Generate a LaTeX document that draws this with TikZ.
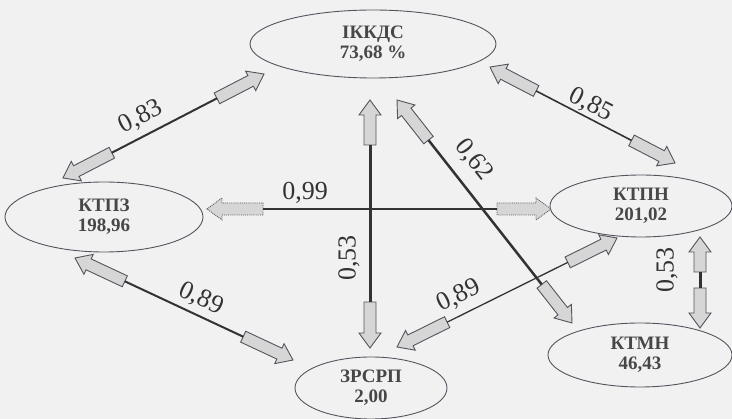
\documentclass[tikz,border=0pt]{standalone}
\usepackage{fontspec}
\setmainfont{Liberation Serif}
\usetikzlibrary{calc,shapes.geometric}
\definecolor{lineC}{HTML}{333333}
\definecolor{fillC}{HTML}{D6D6D6}
\definecolor{edgeC}{HTML}{57535E}
\definecolor{bgC}{HTML}{F1F1F1}
\tikzset{
  state/.style={ellipse, draw=edgeC, line width=0.9pt, inner sep=0pt, align=center,
    font=\fontsize{19}{20}\selectfont\bfseries, text=black!72},
  blockarrow/.style={draw=edgeC, line width=0.9pt, fill=fillC, line join=miter},
  link/.style={draw=lineC, line width=2pt},
  weight/.style={font=\fontsize{26}{26}\selectfont, text=black!80, inner sep=0pt},
}
% #2 tip, #3 point toward which the tail lies, #4 length, #5 tail name
\newcommand\blockarr[5][]{%
  \coordinate (#5) at ($(#2)!#4!(#3)$);
  \coordinate (#5-h) at ($(#2)!15pt!(#3)$);
  \draw[blockarrow,#1] ($(#5)!6pt!90:(#2)$) -- ($(#5-h)!6pt!-90:(#5)$)
    -- ($(#5-h)!11pt!-90:(#5)$) -- (#2) -- ($(#5-h)!11pt!90:(#5)$)
    -- ($(#5-h)!6pt!90:(#5)$) -- ($(#5)!6pt!-90:(#2)$) -- cycle;
}
\begin{document}
\begin{tikzpicture}[x=1pt,y=-1pt]
\useasboundingbox (0,0) rectangle (732,419);
\fill[bgC] (0,0) rectangle (732,419);

% states
\node[state, minimum width=246pt, minimum height=68pt] (ikk) at (373,44) {ІККДС\\73,68 \%};
\node[state, minimum width=198pt, minimum height=70pt] (ktpz) at (104,217) {КТПЗ\\198,96};
\node[state, minimum width=182pt, minimum height=62pt] (ktpn) at (641,206) {КТПН\\201,02};
\node[state, minimum width=184pt, minimum height=64pt] (ktmn) at (640,355) {КТМН\\46,43};
\node[state, minimum width=152pt, minimum height=62pt] (zrsrp) at (371,388) {ЗРСРП\\2,00};

% arrow tips at the ellipses
\coordinate (t1a) at (264,74);  \coordinate (t1b) at (63,178);
\coordinate (t2a) at (490,67);  \coordinate (t2b) at (675,163);
\coordinate (t3a) at (370,100); \coordinate (t3b) at (370,348);
\coordinate (t4a) at (397,100); \coordinate (t4b) at (572,323);
\coordinate (t5a) at (207,209); \coordinate (t5b) at (551,209);
\coordinate (t6a) at (75,258);  \coordinate (t6b) at (293,360);
\coordinate (t7a) at (617,238); \coordinate (t7b) at (397,347);
\coordinate (t8a) at (700,237); \coordinate (t8b) at (700,328);

% ІККДС -- КТПЗ
\blockarr{t1a}{t1b}{53pt}{s1a}
\blockarr{t1b}{t1a}{55pt}{s1b}
\draw[link] (s1a) -- (s1b);
% ІККДС -- КТПН
\blockarr{t2a}{t2b}{52pt}{s2a}
\blockarr{t2b}{t2a}{49pt}{s2b}
\draw[link, line width=1.6pt] (s2a) -- (s2b);
% ІККДС -- ЗРСРП
\blockarr{t3a}{t3b}{45pt}{s3a}
\blockarr{t3b}{t3a}{46pt}{s3b}
\draw[link, line width=3pt] (s3a) -- (s3b);
% ІККДС -- КТМН
\blockarr{t4a}{t4b}{51pt}{s4a}
\blockarr{t4b}{t4a}{49pt}{s4b}
\draw[link, line width=2.5pt] (s4a) -- (s4b);
% КТПЗ -- КТПН
\blockarr[densely dotted]{t5a}{t5b}{56pt}{s5a}
\blockarr[densely dotted]{t5b}{t5a}{54pt}{s5b}
\draw[link] (s5a) -- (s5b);
% КТПЗ -- ЗРСРП
\blockarr{t6a}{t6b}{55pt}{s6a}
\blockarr{t6b}{t6a}{55pt}{s6b}
\draw[link] (s6a) -- (s6b);
% КТПН -- ЗРСРП
\blockarr{t7a}{t7b}{55pt}{s7a}
\blockarr{t7b}{t7a}{56pt}{s7b}
\draw[link, line width=1.3pt] (s7a) -- (s7b);
% КТПН -- КТМН
\blockarr{t8a}{t8b}{35pt}{s8a}
\blockarr{t8b}{t8a}{40pt}{s8b}
\draw[link, line width=3pt] (s8a) -- (s8b);

% weights
\node[weight, rotate=27] (w1) at (141,117) {0,83};
\node[weight, rotate=-27] (w2) at (591,105) {0,85};
\node[weight, rotate=90] (w3) at (349,258) {0,53};
\node[weight, rotate=-52] (w4) at (474,160) {0,62};
\node[weight] (w5) at (305,193) {0,99};
\node[weight, rotate=-25] (w6) at (201,299) {0,89};
\node[weight, rotate=26] (w7) at (459,296) {0,89};
\node[weight, rotate=90] (w8) at (667,270) {0,53};
\end{tikzpicture}
\end{document}
